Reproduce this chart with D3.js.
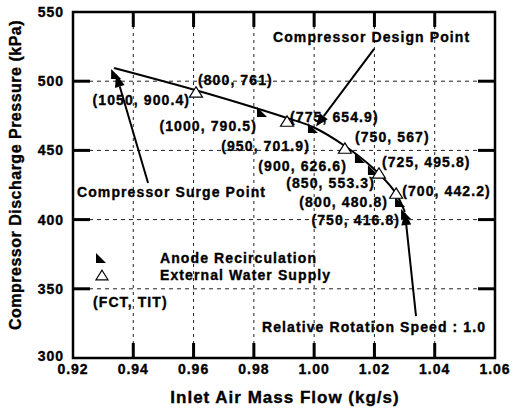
<!DOCTYPE html>
<html>
<head>
<meta charset="utf-8">
<script src="https://cdn.jsdelivr.net/npm/d3@7"></script>
<style>
  body { margin: 0; background: #fff; }
  text { font-family: "Liberation Sans", Arial, sans-serif; font-weight: bold; fill: #000; stroke: #000; stroke-width: 0.35px; }
</style>
</head>
<body>
<svg id="chart" width="513" height="409"></svg>
<script>
// DATA
const xTicks = [0.92, 0.94, 0.96, 0.98, 1.0, 1.02, 1.04, 1.06];
const yTicks = [300, 350, 400, 450, 500, 550];

// relative rotation speed 1.0 line
const speedFlow = [0.9336, 0.9605, 0.9827, 0.991, 0.9996, 1.0102, 1.0195, 1.0268, 1.0301];
const speedPressure = [509.5, 493.6, 479.2, 473.4, 466.9, 453.2, 437.3, 420.0, 405.5];

// anode recirculation (FCT, TIT)
const anodeFCT = [1050, 1000, 950, 900, 850, 800, 750];
const anodeTIT = [900.4, 790.5, 701.9, 626.6, 553.3, 480.8, 416.8];
const anodeFlow = [0.9343, 0.9827, 0.9996, 1.0152, 1.0195, 1.0285, 1.0305];
const anodePressure = [505.2, 477.7, 466.2, 444.5, 435.8, 412.7, 404.0];

// external water supply (FCT, TIT)
const waterFCT = [800, 775, 750, 725, 700];
const waterTIT = [761, 654.9, 567, 495.8, 442.2];
const waterFlow = [0.9608, 0.991, 1.0102, 1.0215, 1.0272];
const waterPressure = [492.2, 471.2, 451.7, 433.7, 419.2];

// label offsets from their marker (px)
const anodeLabelOff = [[74, 31], [-5, 19], [-3, 23], [-13, 13], [2, 18], [-12, 5], [-6, 11]];
const waterLabelOff = [[2, -7], [3, 1], [10, -6], [3, -6], [6, 3]];

// CANVAS SETUP
const svg = d3.select("#chart");
const x = d3.scaleLinear().domain([0.92, 1.06]).range([73, 495]);
const y = d3.scaleLinear().domain([300, 550]).range([358, 12]);
const fmtX = d3.format(".2f");

// grid
svg.append("g")
  .selectAll("line")
  .data(xTicks.slice(1, -1))
  .join("line")
  .attr("x1", (d) => x(d)).attr("x2", (d) => x(d))
  .attr("y1", y(550)).attr("y2", y(300))
  .attr("stroke", "#222").attr("stroke-width", 1)
  .attr("stroke-dasharray", "3,4");

svg.append("g")
  .selectAll("line")
  .data(yTicks.slice(1, -1))
  .join("line")
  .attr("y1", (d) => y(d)).attr("y2", (d) => y(d))
  .attr("x1", x(0.92)).attr("x2", x(1.06))
  .attr("stroke", "#222").attr("stroke-width", 1)
  .attr("stroke-dasharray", "4,4");

// ticks (inward, thick)
const tk = svg.append("g").attr("stroke", "#000").attr("stroke-width", 3);
xTicks.slice(1, -1).forEach((d) => {
  tk.append("line").attr("x1", x(d)).attr("x2", x(d)).attr("y1", y(300)).attr("y2", y(300) - 15);
  tk.append("line").attr("x1", x(d)).attr("x2", x(d)).attr("y1", y(550)).attr("y2", y(550) + 15);
});
yTicks.slice(1, -1).forEach((d) => {
  tk.append("line").attr("y1", y(d)).attr("y2", y(d)).attr("x1", x(0.92)).attr("x2", x(0.92) + 17);
  tk.append("line").attr("y1", y(d)).attr("y2", y(d)).attr("x1", x(1.06)).attr("x2", x(1.06) - 17);
});

// frame
svg.append("rect")
  .attr("x", x(0.92)).attr("y", y(550))
  .attr("width", x(1.06) - x(0.92)).attr("height", y(300) - y(550))
  .attr("fill", "none").attr("stroke", "#000").attr("stroke-width", 2.5);

// tick labels
svg.append("g")
  .selectAll("text")
  .data(xTicks)
  .join("text")
  .attr("x", (d) => x(d)).attr("y", 374)
  .attr("text-anchor", "middle")
  .style("font-size", "14px").style("letter-spacing", "1px")
  .text((d) => fmtX(d));

svg.append("g")
  .selectAll("text")
  .data(yTicks)
  .join("text")
  .attr("x", 64).attr("y", (d) => y(d) + (d === 300 ? 3 : 5))
  .attr("text-anchor", "end")
  .style("font-size", "14px").style("letter-spacing", "1px")
  .text((d) => d);

// axis titles
svg.append("text")
  .attr("x", (x(0.92) + x(1.06)) / 2 + 1).attr("y", 403)
  .attr("text-anchor", "middle")
  .style("font-size", "17px").style("letter-spacing", "1px")
  .text("Inlet Air Mass Flow (kg/s)");

svg.append("text")
  .attr("transform", "translate(21,175) rotate(-90)")
  .attr("text-anchor", "middle")
  .style("font-size", "16px").style("letter-spacing", "0.5px")
  .text("Compressor Discharge Pressure  (kPa)");

// speed line
const speedPts = speedFlow.map((f, i) => [f, speedPressure[i]]);
svg.append("path")
  .datum(speedPts)
  .attr("fill", "none").attr("stroke", "#000").attr("stroke-width", 2)
  .attr("d", d3.line().x((d) => x(d[0])).y((d) => y(d[1])).curve(d3.curveCatmullRom));

// markers
const anodeMarker = (g, cx, cy, s) =>
  g.append("path")
    .attr("d", `M${cx - s / 2},${cy - s / 2}L${cx - s / 2},${cy + s / 2}L${cx + s / 2},${cy + s / 2}Z`)
    .attr("fill", "#000");
const waterMarker = (g, cx, cy, s) =>
  g.append("path")
    .attr("d", `M${cx},${cy - s * 0.4}L${cx + s / 2},${cy + s * 0.4}L${cx - s / 2},${cy + s * 0.4}Z`)
    .attr("fill", "#fff").attr("stroke", "#000").attr("stroke-width", 1.2);

const mk = svg.append("g");
anodeFlow.forEach((f, i) => anodeMarker(mk, x(f), y(anodePressure[i]), 10));
waterFlow.forEach((f, i) => waterMarker(mk, x(f), y(waterPressure[i]), 13));

// (FCT, TIT) labels
const lb = svg.append("g").style("font-size", "14px").style("letter-spacing", "1.1px");
anodeFlow.forEach((f, i) => {
  lb.append("text")
    .attr("x", x(f) + anodeLabelOff[i][0]).attr("y", y(anodePressure[i]) + anodeLabelOff[i][1])
    .attr("text-anchor", "end")
    .text(`(${anodeFCT[i]}, ${anodeTIT[i].toFixed(1)})`);
});
waterFlow.forEach((f, i) => {
  const t = Number.isInteger(waterTIT[i]) ? waterTIT[i] : waterTIT[i].toFixed(1);
  lb.append("text")
    .attr("x", x(f) + waterLabelOff[i][0]).attr("y", y(waterPressure[i]) + waterLabelOff[i][1])
    .text(`(${waterFCT[i]}, ${t})`);
});

// annotation arrows
function arrow(from, to) {
  const x0 = x(from[0]), y0 = y(from[1]), x1 = x(to[0]), y1 = y(to[1]);
  const a = Math.atan2(y1 - y0, x1 - x0), L = 13, W = 5;
  const bx = x1 - L * Math.cos(a), by = y1 - L * Math.sin(a);
  svg.append("line")
    .attr("x1", x0).attr("y1", y0).attr("x2", bx).attr("y2", by)
    .attr("stroke", "#000").attr("stroke-width", 2);
  svg.append("path")
    .attr("d", `M${x1},${y1}L${bx + W * Math.sin(a)},${by - W * Math.cos(a)}L${bx - W * Math.sin(a)},${by + W * Math.cos(a)}Z`)
    .attr("fill", "#000");
}
arrow([0.9449, 426.4], [anodeFlow[0], anodePressure[0]]);
arrow([1.0199, 523.3], [anodeFlow[2] + 0.001, anodePressure[2] + 1]);
arrow([1.0338, 330.3], [speedFlow[8], speedPressure[8]]);

// text annotations
const an = svg.append("g").style("font-size", "14px").style("letter-spacing", "1.1px");
an.append("text").attr("x", 273).attr("y", 42).text("Compressor Design Point");
an.append("text").attr("x", 77).attr("y", 197).text("Compressor Surge Point");
an.append("text").attr("x", 262).attr("y", 332).text("Relative Rotation Speed : 1.0");
an.append("text").attr("x", 93).attr("y", 307).text("(FCT, TIT)");

// legend
anodeMarker(svg, 101, 258, 10);
waterMarker(svg, 102, 275, 12);
an.append("text").attr("x", 160).attr("y", 263).text("Anode Recirculation");
an.append("text").attr("x", 160).attr("y", 280).text("External Water Supply");
</script>
</body>
</html>
